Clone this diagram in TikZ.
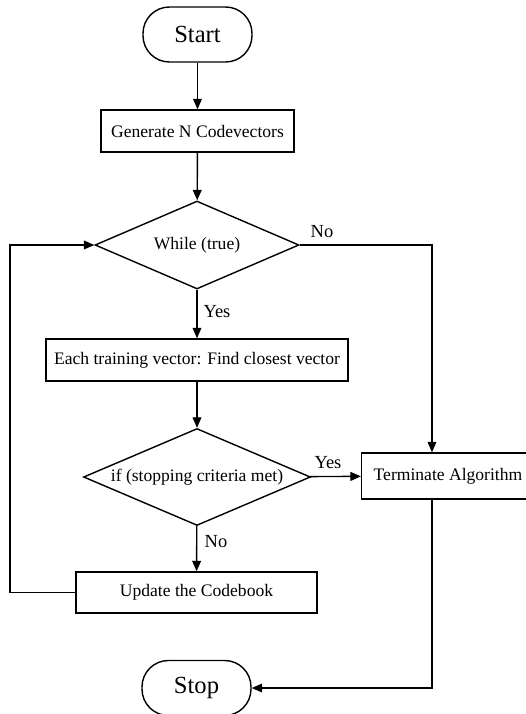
\documentclass[tikz,border=0pt]{standalone}
\usepackage{fontspec}
\setmainfont{Liberation Serif}
\usetikzlibrary{shapes.geometric,arrows.meta}

\begin{document}
\begin{tikzpicture}[x=.02cm,y=-.02cm,line width=.8pt,
		>={Triangle[length=6pt,width=5pt]},
		term/.style={draw,rounded corners=15pt,minimum width=2.18cm,minimum height=1.1cm,font=\fontsize{14}{16}\selectfont},
		proc/.style={draw,minimum height=.84cm,font=\fontsize{10}{12}\selectfont},
		decide/.style={draw,diamond,inner sep=0pt,font=\fontsize{10}{12}\selectfont},
		lbl/.style={font=\fontsize{10.5}{12}\selectfont}]
		\useasboundingbox (0,0) rectangle (525,714);
		\node[term] (start) at (197.5,34.5){Start};
		\node[proc,minimum width=3.86cm] (gen) at (197.5,131){Generate N Codevectors};
		\node[decide,minimum width=4.08cm,minimum height=1.76cm,aspect=2.32] (while) at (197,245){While (true)};
		\node[proc,minimum width=6.04cm] (each) at (197,360){Each training vector: Find closest vector};
		\node[decide,minimum width=4.54cm,minimum height=1.94cm,aspect=2.34] (stopif) at (197,477){if (stopping criteria met)};
		\node[proc,minimum height=.92cm,anchor=west,inner xsep=.24cm,text width=3.4cm,align=flush left] (termalg) at (361,476){Terminate Algorithm};
		\node[proc,minimum width=4.82cm,minimum height=.82cm] (upd) at (196.5,592.5){Update the Codebook};
		\node[term] (stop) at (196.5,688){Stop};
		%%%%%%%%%%%%%%%%%%%%%%%%%%%%%%%%%
		\draw[->] (start) -- (gen);
		\draw[->] (gen) -- (while);
		\draw[->] (while) -- (each);
		\draw[->] (each) -- (stopif);
		\draw[->] (stopif) -- (upd);
		\draw[->] (stopif) -- (termalg);
		\node[lbl] (yesA) at (217,312){Yes};
		\node[lbl] (noA) at (322,232){No};
		\node[lbl] (yesB) at (328,463){Yes};
		\node[lbl] (noB) at (216,542){No};
		%%%%%%%%%%%%%%%%%%%%%%%%%%%%%%%%%
		\coordinate (loop) at (10,592.5);
		\draw[->] (upd.west) -- (loop) |- (while.west);
		\draw[->] (while.east) -| ([xshift=1.42cm]termalg.north west);
		\draw[->] ([xshift=1.42cm]termalg.south west) |- (stop.east);
	\end{tikzpicture}
\end{document}
